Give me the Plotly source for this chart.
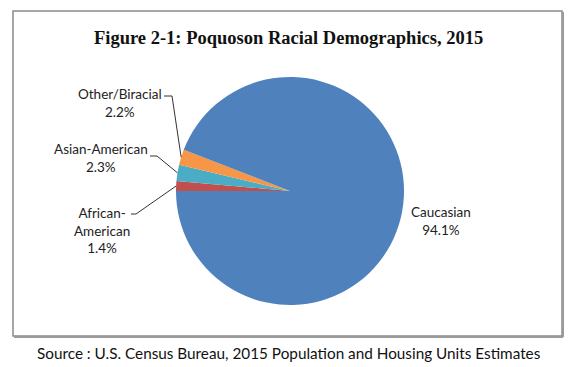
import math
import plotly.graph_objects as go

# ---- data ----
categories = ["African-American", "Asian-American", "Other/Biracial", "Caucasian"]
label_text = ["African-<br>American", "Asian-American", "Other/Biracial", "Caucasian"]
values = [1.4, 2.3, 2.2, 94.1]
colors = ["#C0504D", "#4BACC6", "#F79646", "#4F81BD"]

OFF = 8  # page body margin
W, H = 577 - OFF, 367 - OFF
CX, CY, R = 290, 191, 114
ROT = 270  # first slice starts at 9 o'clock, clockwise


def px(x):
    return (x - OFF) / W


def py(y):
    return 1 - (y - OFF) / H


fig = go.Figure()
fig.add_trace(go.Pie(
    labels=categories, values=values, sort=False, direction="clockwise",
    rotation=ROT, textinfo="none", hoverinfo="label+percent",
    marker=dict(colors=colors, line=dict(width=0)),
    domain=dict(x=[px(CX - R), px(CX + R)], y=[py(CY + R), py(CY - R)]),
    showlegend=False,
))

# slice mid-angles from values
total = sum(values)
mids = []
acc = 0
for v in values:
    mids.append(ROT + (acc + v / 2) / total * 360)
    acc += v


def edge_point(theta_deg):
    t = math.radians(theta_deg)
    return CX + R * math.sin(t), CY - R * math.cos(t)


# label layout: (center x, center y, leader start x, leader start y, leader knee x)
label_pos = {
    "African-American": (102, 230, 131, 214, 136),
    "Asian-American": (101, 158, 150, 156, 157),
    "Other/Biracial": (120, 103, 164, 96, 172),
    "Caucasian": (441, 221, None, None, None),
}

annotations = []
shapes = []
for cat, txt, v, m in zip(categories, label_text, values, mids):
    lx, ly, sx, sy, kx = label_pos[cat]
    annotations.append(dict(
        x=px(lx), y=py(ly), xref="paper", yref="paper",
        text=f"{txt}<br>{v:.1f}%", showarrow=False,
        font=dict(family="Lato, Open Sans, sans-serif", size=13.5, color="#222"),
        align="center", xanchor="center", yanchor="middle",
    ))
    if sx is not None:
        ex, ey = edge_point(m)
        shapes.append(dict(
            type="path", xref="paper", yref="paper",
            path=f"M {px(sx)} {py(sy)} L {px(kx)} {py(sy)} L {px(ex)} {py(ey)}",
            line=dict(color="#333", width=1),
        ))

# title
annotations.append(dict(
    x=px(288), y=py(38), xref="paper", yref="paper",
    text="<b>Figure 2-1: Poquoson Racial Demographics, 2015</b>", showarrow=False,
    font=dict(family="Liberation Serif, Times New Roman, serif", size=18.5, color="#111"),
    xanchor="center", yanchor="middle",
))
# source
annotations.append(dict(
    x=px(289), y=py(353), xref="paper", yref="paper",
    text="Source : U.S. Census Bureau, 2015 Population and Housing Units Estimates",
    showarrow=False,
    font=dict(family="Lato, Open Sans, sans-serif", size=15.3, color="#111"),
    xanchor="center", yanchor="middle",
))

# frame box
shapes.append(dict(type="rect", xref="paper", yref="paper",
                   x0=px(13), x1=px(562), y0=py(336), y1=py(11),
                   line=dict(color="#8a8a8a", width=1.5), layer="below"))
shapes.append(dict(type="line", xref="paper", yref="paper",
                   x0=px(563), x1=px(563), y0=py(337), y1=py(12),
                   line=dict(color="#9a9a9a", width=2), layer="below"))
shapes.append(dict(type="line", xref="paper", yref="paper",
                   x0=px(14), x1=px(563), y0=py(337), y1=py(337),
                   line=dict(color="#9a9a9a", width=2), layer="below"))

fig.update_layout(
    width=W, height=H, margin=dict(l=0, r=0, t=0, b=0),
    paper_bgcolor="white", plot_bgcolor="white",
    annotations=annotations, shapes=shapes,
)

fig.write_html("out.html")
